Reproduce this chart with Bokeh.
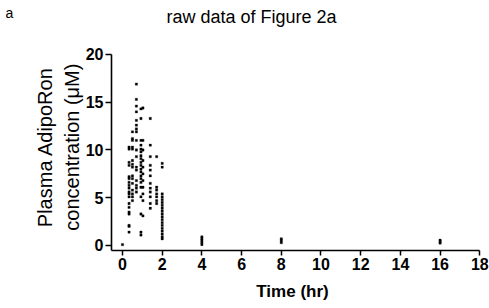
import math
from bokeh.plotting import figure
from bokeh.models import Range1d, Label, FixedTicker, ColumnDataSource
from bokeh.embed import file_html
from bokeh.resources import INLINE

# ---- data ----
times = [0, 0.33, 0.5, 0.7, 0.93, 1.03, 1.4, 1.72, 2.0, 4, 8, 16]
conc_t0 = [0.1]
conc_t033 = [10.3, 10.1, 8.7, 8.4, 7.2, 7.0, 6.6, 6.3, 6.0, 5.6, 5.4, 5.1, 4.4, 4.0, 3.5, 3.3, 2.1, 2.0, 1.4]
conc_t05 = [11.9, 11.2, 11.0, 10.3, 10.1, 8.9, 8.5, 8.2, 7.3, 7.0, 6.5, 5.8, 5.4, 5.1, 4.7]
conc_t07 = [16.9, 15.3, 14.6, 14.0, 13.1, 12.6, 12.2, 11.9, 11.0, 10.0, 9.3, 8.2, 7.9, 6.8, 6.3, 6.0, 5.6]
conc_t093 = [14.3, 13.3, 11.0, 10.5, 10.1, 9.8, 9.4, 9.1, 8.7, 8.4, 8.0, 7.7, 7.3, 7.0, 6.6, 6.1, 5.1, 3.3, 1.4, 1.1]
conc_t103 = [14.4, 11.0, 10.0, 8.9, 8.2, 7.5, 6.8, 6.1, 5.4, 4.7, 3.1]
conc_t14 = [13.3, 10.5, 9.3, 8.4, 7.9, 7.3, 6.5, 6.0, 5.6, 5.1, 4.4, 3.9]
conc_t172 = [9.3, 6.1, 5.8, 5.4, 5.1, 4.7, 4.4]
conc_t2 = [8.6, 8.2, 5.4, 5.1, 4.8, 4.5, 4.2, 3.9, 3.6, 3.3, 3.0, 2.7, 2.4, 2.1, 1.8, 1.5, 1.2, 0.9, 0.7]
conc_t4 = [0.9, 0.7, 0.5, 0.3, 0.1]
conc_t8 = [0.7, 0.5, 0.3]
conc_t16 = [0.55, 0.4, 0.25]

x_ticks = [0, 2, 4, 6, 8, 10, 12, 14, 16, 18]
y_ticks = [0, 5, 10, 15, 20]

groups = [conc_t0, conc_t033, conc_t05, conc_t07, conc_t093, conc_t103,
          conc_t14, conc_t172, conc_t2, conc_t4, conc_t8, conc_t16]
xs, ys = [], []
for t, vals in zip(times, groups):
    for v in vals:
        xs.append(t)
        ys.append(v)
src = ColumnDataSource(dict(x=xs, y=ys))

FONT = "Liberation Sans"

# frame fills the whole canvas; axes are pinned at fixed data locations
p = figure(width=489, height=308, output_backend="svg", toolbar_location=None,
           x_range=Range1d(-6.146, 18.489), y_range=Range1d(-6.597, 25.654),
           min_border_left=0, min_border_right=0, min_border_top=0,
           min_border_bottom=0)
p.outline_line_color = None
p.xgrid.visible = False
p.ygrid.visible = False
p.background_fill_color = "white"

p.scatter("x", "y", source=src, marker="square", size=2.3,
          fill_color="black", line_color="black", line_width=0.3)

for ax in (p.xaxis[0], p.yaxis[0]):
    ax.axis_line_width = 1.6
    ax.axis_line_color = "black"
    ax.major_tick_line_width = 1.5
    ax.major_tick_line_color = "black"
    ax.minor_tick_line_color = None
    ax.major_tick_in = 0
    ax.major_label_text_font = FONT
    ax.major_label_text_font_style = "bold"
    ax.major_label_text_font_size = "16px"
    ax.major_label_text_color = "black"
    ax.axis_label = None

xa = p.xaxis[0]
xa.ticker = FixedTicker(ticks=x_ticks)
xa.fixed_location = -0.52
xa.bounds = (-0.554, 18)
xa.major_tick_out = 5
xa.major_label_standoff = 3

ya = p.yaxis[0]
ya.ticker = FixedTicker(ticks=y_ticks)
ya.fixed_location = -0.554
ya.bounds = (-0.52, 20)
ya.major_tick_out = 6
ya.major_label_standoff = 2

p.add_layout(Label(x=6.5, y=23.95, text="raw data of Figure 2a", text_align="center",
                   text_baseline="alphabetic", text_font=FONT, text_font_size="18px",
                   text_color="black"))
p.add_layout(Label(x=-5.894, y=24.3, text="a", text_align="left",
                   text_baseline="alphabetic", text_font=FONT, text_font_size="14px",
                   text_color="black"))
p.add_layout(Label(x=8.564, y=-4.85, text="Time (hr)", text_align="center",
                   text_baseline="alphabetic", text_font=FONT, text_font_size="17px",
                   text_font_style="bold", text_color="black"))
p.add_layout(Label(x=-3.224, y=10.3, text="Plasma AdipoRon\nconcentration (\u03bcM)",
                   angle=math.pi / 2, text_align="center", text_baseline="middle",
                   text_font=FONT, text_font_size="20px", text_line_height=1.2,
                   text_color="black"))

open("out.html", "w").write(file_html(p, INLINE))
